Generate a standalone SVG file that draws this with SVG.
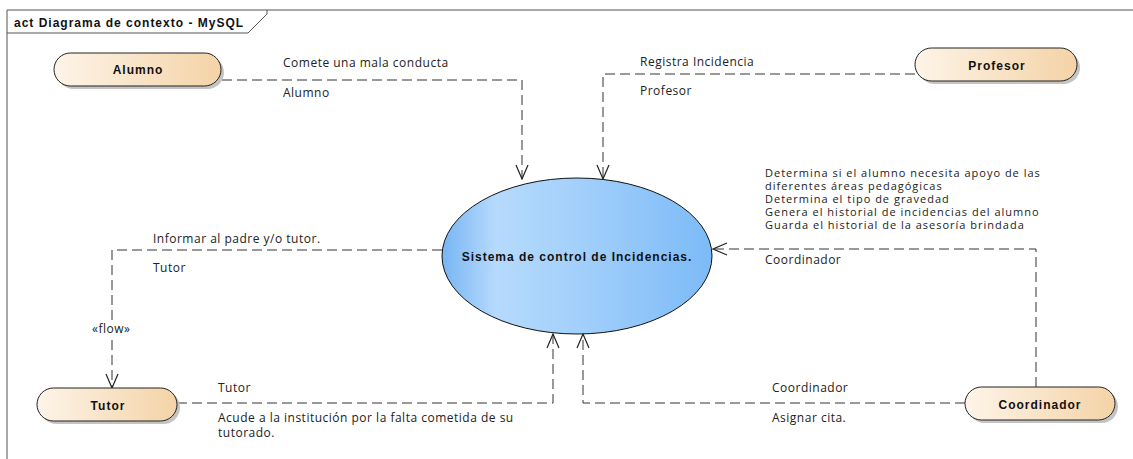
<svg xmlns="http://www.w3.org/2000/svg" width="1133" height="459" viewBox="0 0 1133 459">
<style>
.frame{fill:none;stroke:#555;stroke-width:1}
.title{font-family:"Liberation Sans",Arial,sans-serif;font-size:12px;font-weight:bold;letter-spacing:1px;fill:#111}
.pill{stroke:#222;stroke-width:1;fill:url(#pillGrad)}
.shadow{fill:#c4c4c4}
.nlabel{font-family:"Liberation Sans",Arial,sans-serif;font-size:12px;font-weight:bold;letter-spacing:1px;fill:#111;text-anchor:middle}
.conn{fill:none;stroke:#333;stroke-width:1;stroke-dasharray:10 5}
.lbl{font-family:"Open Sans","Noto Sans",sans-serif;font-size:12px;letter-spacing:0.5px;fill:#222}
.lbl2{font-family:"Open Sans","Noto Sans",sans-serif;font-size:11px;letter-spacing:1px;fill:#222}
</style>
<defs>
<linearGradient id="pillGrad" x1="0" y1="0" x2="1" y2="0">
<stop offset="0" stop-color="#fdf4e8"/>
<stop offset="1" stop-color="#f4d3a7"/>
</linearGradient>
<linearGradient id="ellGrad" x1="0" y1="0" x2="1" y2="0">
<stop offset="0" stop-color="#78b5f4"/>
<stop offset="0.2" stop-color="#b6dafc"/>
<stop offset="0.5" stop-color="#a3d0fb"/>
<stop offset="1" stop-color="#7cbaf7"/>
</linearGradient>
<marker id="arr" viewBox="0 0 16 14" refX="15" refY="7" markerWidth="16" markerHeight="14" markerUnits="userSpaceOnUse" orient="auto">
<path d="M1 1 L15 7 L1 13" fill="none" stroke="#222" stroke-width="1.2"/>
</marker>
</defs>
<rect x="0" y="0" width="1133" height="459" fill="#fff"/>
<g id="frame">
<path class="frame" d="M7 459 V10 H1133"/>
<path class="frame" d="M7 33 H248 L267 14 V10"/>
<text class="title" x="14" y="27">act Diagrama de contexto - MySQL</text>
</g>
<g id="connectors">
<path class="conn" d="M222 80 H522 V179" marker-end="url(#arr)"/>
<path class="conn" d="M915 74 H603 V179" marker-end="url(#arr)"/>
<path class="conn" d="M442 250 H112 V388" marker-end="url(#arr)"/>
<path class="conn" d="M1036 387 V249 H713" marker-end="url(#arr)"/>
<path class="conn" d="M177 403 H553 V334" marker-end="url(#arr)"/>
<path class="conn" d="M965 403 H583 V334" marker-end="url(#arr)"/>
<rect x="90" y="321" width="44" height="16" fill="#fff"/>
<text class="lbl" x="283" y="67">Comete una mala conducta</text>
<text class="lbl" x="283" y="97">Alumno</text>
<text class="lbl" x="640" y="66">Registra Incidencia</text>
<text class="lbl" x="640" y="95">Profesor</text>
<text class="lbl2" x="765" y="177">Determina si el alumno necesita apoyo de las</text>
<text class="lbl2" x="765" y="190">diferentes áreas pedagógicas</text>
<text class="lbl2" x="765" y="203">Determina el tipo de gravedad</text>
<text class="lbl2" x="765" y="216">Genera el historial de incidencias del alumno</text>
<text class="lbl2" x="765" y="229">Guarda el historial de la asesoría brindada</text>
<text class="lbl" x="765" y="264">Coordinador</text>
<text class="lbl" x="153" y="243">Informar al padre y/o tutor.</text>
<text class="lbl" x="153" y="272">Tutor</text>
<text class="lbl" x="92" y="333">«flow»</text>
<text class="lbl" x="218" y="392">Tutor</text>
<text class="lbl" x="218" y="422">Acude a la institución por la falta cometida de su</text>
<text class="lbl" x="218" y="437">tutorado.</text>
<text class="lbl" x="772" y="392">Coordinador</text>
<text class="lbl" x="772" y="422">Asignar cita.</text>
</g>
<g id="sistema">
<ellipse cx="577" cy="256" rx="135" ry="78" fill="url(#ellGrad)" stroke="#111" stroke-width="1"/>
<text class="nlabel" x="577" y="261">Sistema de control de Incidencias.</text>
</g>
<g id="alumno">
<rect class="shadow" x="57" y="56" width="167" height="33" rx="16.5"/>
<rect class="pill" x="54" y="53" width="167" height="33" rx="16.5"/>
<text class="nlabel" x="138" y="74">Alumno</text>
</g>
<g id="profesor">
<rect class="shadow" x="918" y="51" width="162" height="33" rx="16.5"/>
<rect class="pill" x="915" y="48" width="162" height="33" rx="16.5"/>
<text class="nlabel" x="997" y="70">Profesor</text>
</g>
<g id="tutor">
<rect class="shadow" x="40" y="391" width="140" height="33" rx="16.5"/>
<rect class="pill" x="37" y="388" width="140" height="33" rx="16.5"/>
<text class="nlabel" x="108" y="410">Tutor</text>
</g>
<g id="coordinador">
<rect class="shadow" x="968" y="390" width="150" height="33" rx="16.5"/>
<rect class="pill" x="965" y="387" width="150" height="33" rx="16.5"/>
<text class="nlabel" x="1040" y="409">Coordinador</text>
</g>
</svg>
